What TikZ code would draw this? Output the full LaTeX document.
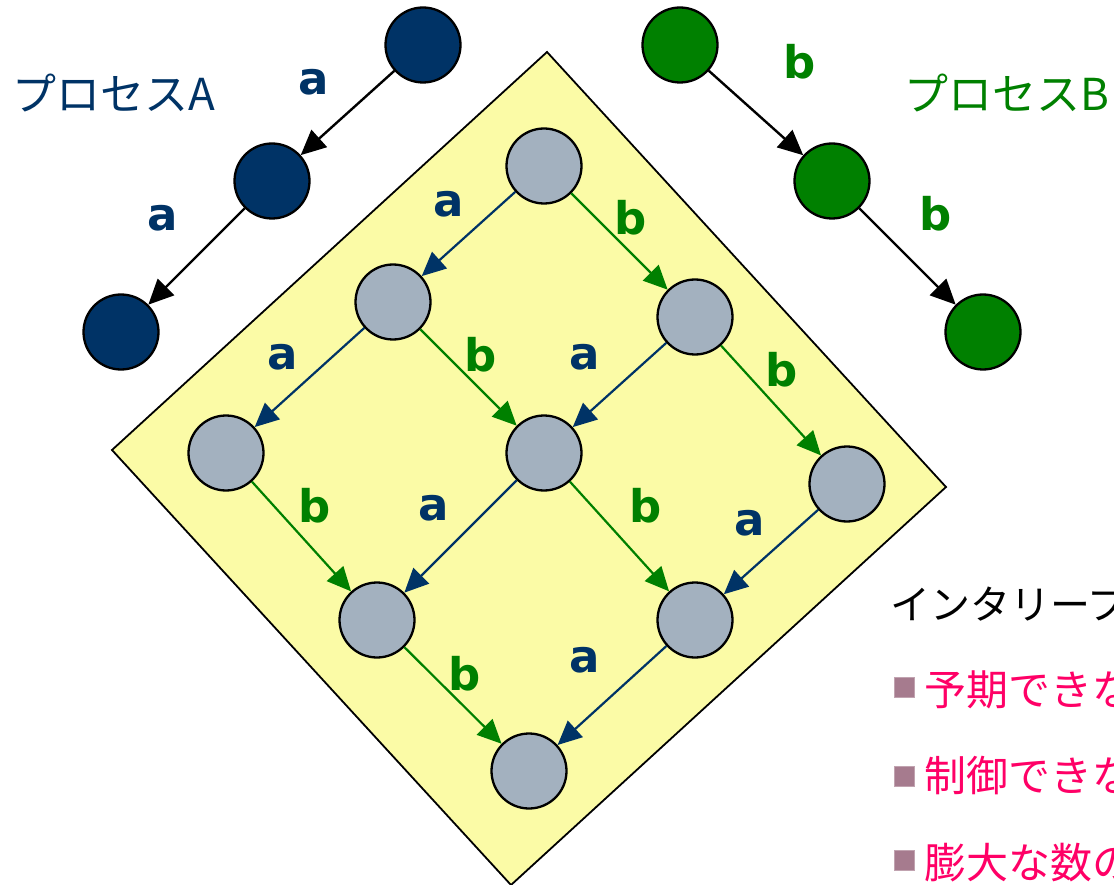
\documentclass[tikz,border=0pt]{standalone}
\usepackage{fontspec}
\newfontfamily\jp{Noto Sans CJK JP}
\newfontfamily\lab{DejaVu Sans}
\usetikzlibrary{arrows.meta}
\definecolor{cA}{HTML}{003366}
\definecolor{cB}{HTML}{008000}
\definecolor{cG}{HTML}{A3B1BF}
\definecolor{cY}{HTML}{FBFBA6}
\definecolor{cM}{HTML}{FF0066}
\definecolor{cBul}{HTML}{A67B8E}
\tikzset{
  pnode/.style={circle, draw=black, line width=2.3pt, minimum size=75pt, inner sep=0pt},
  anode/.style={pnode, fill=cA},
  bnode/.style={pnode, fill=cB},
  gnode/.style={pnode, fill=cG},
  arr/.style={-{Triangle[length=25pt,width=23pt]}, line width=2.4pt},
  inarr/.style={-{Triangle[length=24pt,width=22pt]}, line width=2.2pt},
  lbl/.style={font=\lab\bfseries\fontsize{45}{45}\selectfont, inner sep=0pt},
  la/.style={lbl, text=cA},
  lb/.style={lbl, text=cB},
  jtxt/.style={font=\jp\fontsize{40}{44}\selectfont, inner sep=0pt, anchor=west},
  ptxt/.style={font=\jp\fontsize{44}{48}\selectfont, inner sep=0pt, anchor=west},
  mtxt/.style={font=\jp\fontsize{42}{46}\selectfont, inner sep=0pt, anchor=west, text=cM},
  bullet/.style={fill=cBul, draw=cBul!70!white, line width=1pt, minimum size=20pt, inner sep=0pt}
}
\begin{document}
\begin{tikzpicture}[x=1pt,y=-1pt]
\useasboundingbox (0,0) rectangle (1114,885);
\clip (0,0) rectangle (1114,885);
% diamond
\draw[fill=cY, line width=1.8pt] (547,52) -- (946,487) -- (511,885) -- (112,450) -- cycle;
% process A
\node[anode] (a1) at (423,45) {};
\node[anode] (a2) at (272,181) {};
\node[anode] (a3) at (121,332) {};
\draw[arr] (a1) -- (a2);
\draw[arr] (a2) -- (a3);
\node[la] (la1) at (314,82) {a};
\node[la] (la2) at (163,218) {a};
\node[ptxt, text=cA] (pA) at (12,93) {プロセスA};
% process B
\node[bnode] (b1) at (680,45) {};
\node[bnode] (b2) at (832,181) {};
\node[bnode] (b3) at (983,332) {};
\draw[arr] (b1) -- (b2);
\draw[arr] (b2) -- (b3);
\node[lb] (lb1) at (800,62) {b};
\node[lb] (lb2) at (936,214) {b};
\node[ptxt, text=cB] (pB) at (904,93) {プロセスB};
% interleaving grid
\node[gnode] (n0) at (544,166) {};
\node[gnode] (n1) at (393,302) {};
\node[gnode] (n2) at (695,317) {};
\node[gnode] (n3) at (226,453) {};
\node[gnode] (n4) at (544,453) {};
\node[gnode] (n5) at (847,484) {};
\node[gnode] (n6) at (377,620) {};
\node[gnode] (n7) at (695,620) {};
\node[gnode] (n8) at (529,771) {};
\draw[inarr, cA] (n0) -- (n1);
\draw[inarr, cB] (n0) -- (n2);
\draw[inarr, cA] (n1) -- (n3);
\draw[inarr, cB] (n1) -- (n4);
\draw[inarr, cA] (n2) -- (n4);
\draw[inarr, cB] (n2) -- (n5);
\draw[inarr, cB] (n3) -- (n6);
\draw[inarr, cA] (n4) -- (n6);
\draw[inarr, cB] (n4) -- (n7);
\draw[inarr, cA] (n5) -- (n7);
\draw[inarr, cB] (n6) -- (n8);
\draw[inarr, cA] (n7) -- (n8);
\node[la] at (449,204) {a};
\node[lb] at (631,218) {b};
\node[la] at (283,357) {a};
\node[lb] at (481,355) {b};
\node[la] at (585,357) {a};
\node[lb] at (782,370) {b};
\node[lb] at (315,506) {b};
\node[la] at (434,508) {a};
\node[lb] at (646,506) {b};
\node[la] at (750,523) {a};
\node[lb] at (465,674) {b};
\node[la] at (585,660) {a};
% right text
\node[jtxt] (t0) at (890,603) {インタリーブ};
\node[bullet] (q1) at (904,687) {};
\node[mtxt] (t1) at (924,690) {予期できな};
\node[bullet] (q2) at (904,776) {};
\node[mtxt] (t2) at (924,776) {制御できな};
\node[bullet] (q3) at (904,860) {};
\node[mtxt] (t3) at (924,863) {膨大な数の};
\end{tikzpicture}
\end{document}
